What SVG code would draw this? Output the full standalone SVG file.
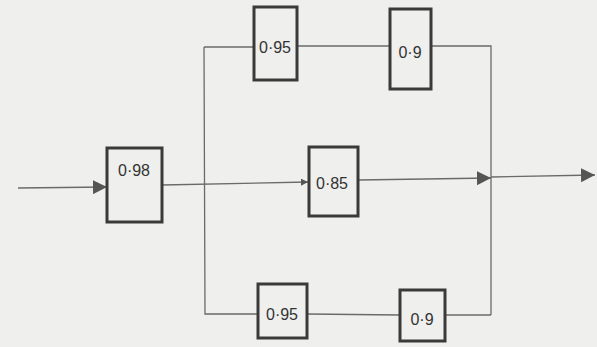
<svg xmlns="http://www.w3.org/2000/svg" width="597" height="347" viewBox="0 0 597 347">
<style>
.box{fill:none;stroke:#3a3a3a;stroke-width:3}
.ln{fill:none;stroke:#6a6a6a;stroke-width:1.3}
.lbl{font-family:"Liberation Sans",sans-serif;font-size:16px;fill:#333;text-anchor:middle}
</style>
<defs>
<marker id="ah" viewBox="0 0 10 10" refX="10" refY="5" markerWidth="7" markerHeight="7" orient="auto" markerUnits="userSpaceOnUse">
<path d="M0,0 L10,5 L0,10 z" fill="#555"/>
</marker>
<marker id="ahb" viewBox="0 0 10 10" refX="10" refY="5" markerWidth="14" markerHeight="14" orient="auto" markerUnits="userSpaceOnUse">
<path d="M0,0 L10,5 L0,10 z" fill="#555"/>
</marker>
</defs>
<rect width="597" height="347" fill="#efefed"/>
<g id="connectors">
<path class="ln" d="M18,188 L107,187" marker-end="url(#ahb)"/>
<path class="ln" d="M162,185 L308,182" marker-end="url(#ah)"/>
<path class="ln" d="M204,47 L254,47"/>
<path class="ln" d="M204,47 L205,314 L258,314"/>
<path class="ln" d="M297,46 L390,46"/>
<path class="ln" d="M431,46 L491,46 L491,315"/>
<path class="ln" d="M307,314 L400,315"/>
<path class="ln" d="M445,315 L491,315"/>
<path class="ln" d="M358,180 L491,178" marker-end="url(#ahb)"/>
<path class="ln" d="M491,177 L595,175" marker-end="url(#ahb)"/>
</g>
<g id="n098"><rect class="box" x="107" y="148" width="55" height="74"/><text class="lbl" x="134" y="176">0·98</text></g>
<g id="n095a"><rect class="box" x="254" y="7" width="43" height="73"/><text class="lbl" x="275" y="53">0·95</text></g>
<g id="n09a"><rect class="box" x="390" y="9" width="41" height="80"/><text class="lbl" x="410" y="58">0·9</text></g>
<g id="n085"><rect class="box" x="309" y="147" width="49" height="69"/><text class="lbl" x="332" y="189">0·85</text></g>
<g id="n095b"><rect class="box" x="258" y="284" width="49" height="54"/><text class="lbl" x="282" y="320">0·95</text></g>
<g id="n09b"><rect class="box" x="400" y="290" width="45" height="51"/><text class="lbl" x="422" y="325">0·9</text></g>
</svg>
